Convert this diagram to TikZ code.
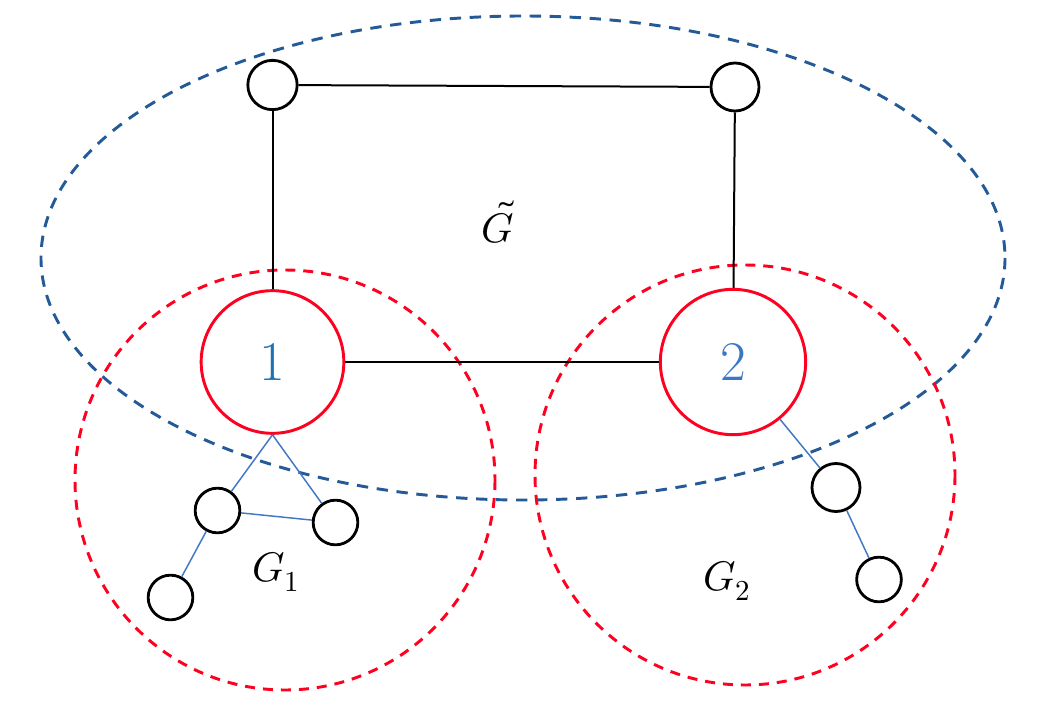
\documentclass[tikz,border=0pt]{standalone}
\usepackage{fontspec}
\usepackage{unicode-math}
\setmathfont{Latin Modern Math}
\begin{document}
\begin{tikzpicture}[x=0.75pt,y=-0.75pt,
  bignode/.style={circle,draw=redc,line width=2.2pt,minimum size=107pt,inner sep=0pt,text=numblue,font=\fontsize{42}{48}\selectfont},
  smallnode/.style={circle,draw=black,line width=2.1pt,minimum size=37pt,inner sep=0pt},
  tinynode/.style={circle,draw=black,line width=2.1pt,minimum size=33.5pt,inner sep=0pt},
  blackedge/.style={draw=black,line width=1.5pt},
  blueedge/.style={draw=edgeblue,line width=1.1pt},
  bluedash/.style={draw=dashblue,line width=2.2pt,dash pattern=on 8.5pt off 6.5pt},
  reddash/.style={draw=redc,line width=2.2pt,dash pattern=on 7.5pt off 6pt},
  lbl/.style={font=\fontsize{31}{37}\selectfont,inner sep=0pt}
]
\definecolor{redc}{HTML}{FF0020}
\definecolor{numblue}{HTML}{1F72B4}
\definecolor{numblue2}{HTML}{3B78C4}
\definecolor{edgeblue}{HTML}{4178C6}
\definecolor{dashblue}{HTML}{245A98}
\useasboundingbox (0,0) rectangle (1049,727);
\fill[white] (0,0) rectangle (1049,727);

% dashed regions
\draw[bluedash] (523,258) ellipse [x radius=482, y radius=242];
\draw[reddash] (285,480) circle [radius=210];
\draw[reddash] (745,475) circle [radius=210];

% nodes
\node[bignode] (n1) at (272.5,362) {1};
\node[bignode,text=numblue2,minimum size=109pt] (n2) at (733,362) {2};
\node[smallnode] (t1) at (272.5,85) {};
\node[smallnode,minimum size=36pt] (t2) at (735,87) {};
\node[tinynode] (a) at (217.5,510.5) {};
\node[tinynode] (b) at (335.5,522.5) {};
\node[tinynode] (c) at (170.5,597.5) {};
\node[smallnode,minimum size=36pt] (d) at (836,487.5) {};
\node[tinynode] (e) at (879,579.5) {};

% edges
\draw[blackedge] (t1) -- (t2);
\draw[blackedge] (t1) -- (n1);
\draw[blackedge] (t2) -- (n2);
\draw[blackedge] (n1) -- (n2);
\draw[blueedge] (n1.south) -- (a);
\draw[blueedge] (n1.south) -- (b);
\draw[blueedge] (a) -- (b);
\draw[blueedge] (a) -- (c);
\draw[blueedge] (n2) -- (d);
\draw[blueedge] (d) -- (e);

% labels
\node[lbl] (gt) at (498,222) {$\tilde{G}$};
\node[lbl] (g1) at (276,572) {$G_1$};
\node[lbl] (g2) at (727,581) {$G_2$};
\end{tikzpicture}
\end{document}
